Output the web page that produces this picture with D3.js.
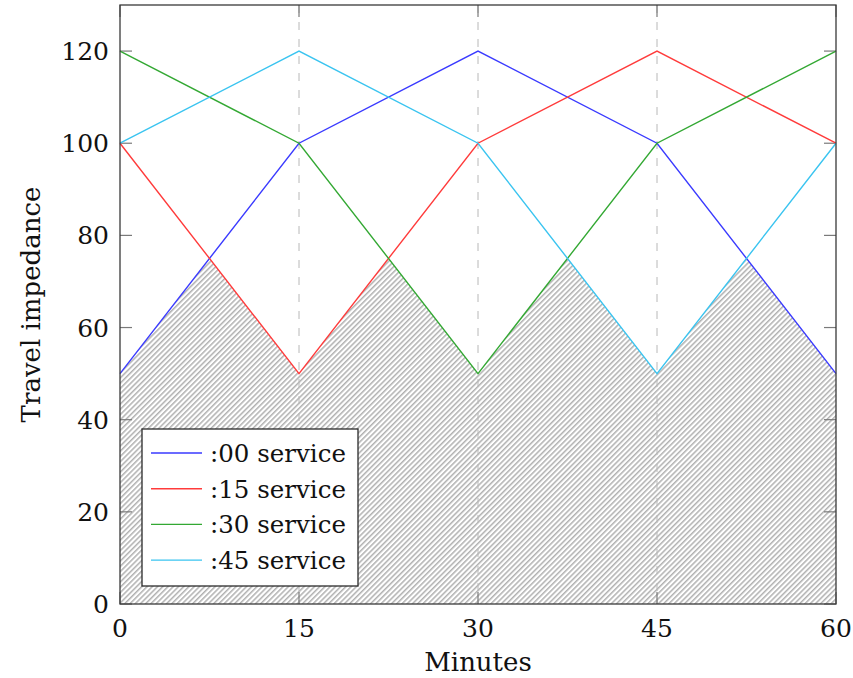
<!DOCTYPE html>
<html><head><meta charset="utf-8">
<script src="https://cdn.jsdelivr.net/npm/d3@7"></script>
<style>body{margin:0;background:#fff}svg{display:block}</style>
</head><body><svg id="c" width="853" height="678"></svg>
<script>
const minutes = [0, 15, 30, 45, 60];
const seriesNames = [":00 service", ":15 service", ":30 service", ":45 service"];
const seriesColors = ["#3a3aff", "#ff3b3b", "#33a833", "#3ac4f0"];
const s00 = [50, 100, 120, 100, 50];
const s15 = [100, 50, 100, 120, 100];
const s30 = [120, 100, 50, 100, 120];
const s45 = [100, 120, 100, 50, 100];
const envX = [0, 7.5, 15, 22.5, 30, 37.5, 45, 52.5, 60];
const envY = [50, 75, 50, 75, 50, 75, 50, 75, 50];
const xTicks = [0, 15, 30, 45, 60];
const yTicks = [0, 20, 40, 60, 80, 100, 120];
const gridX = [15, 30, 45];

const FONT = "'DejaVu Serif', 'Liberation Serif', serif";
const svg = d3.select("#c");
const L = 120, R = 836, T = 5, B = 604;
const x = d3.scaleLinear().domain([0, 60]).range([L, R]);
const y = d3.scaleLinear().domain([0, 130]).range([B, T]);

const defs = svg.append("defs");
const pat = defs.append("pattern").attr("id", "hatch").attr("patternUnits", "userSpaceOnUse")
  .attr("width", 3.7).attr("height", 10).attr("patternTransform", "rotate(45)");
pat.append("line").attr("x1", 0.8).attr("y1", 0).attr("x2", 0.8).attr("y2", 10)
  .attr("stroke", "#9c9c9c").attr("stroke-width", 1.2);

const env = envX.map((v, i) => [v, envY[i]]);
svg.append("path")
  .datum(env)
  .attr("d", d3.area().x(d => x(d[0])).y0(y(0)).y1(d => y(d[1])))
  .attr("fill", "url(#hatch)");

svg.append("g").selectAll("line").data(gridX).join("line")
  .attr("x1", d => x(d)).attr("x2", d => x(d)).attr("y1", T).attr("y2", B)
  .attr("stroke", "#b8b8b8").attr("stroke-width", 1).attr("stroke-dasharray", "8,9");

const tk = svg.append("g").attr("stroke", "#7a7a7a").attr("stroke-width", 1.2);
xTicks.forEach(t => {
  tk.append("line").attr("x1", x(t)).attr("x2", x(t)).attr("y1", B).attr("y2", B - 12);
  tk.append("line").attr("x1", x(t)).attr("x2", x(t)).attr("y1", T).attr("y2", T + 12);
});
yTicks.forEach(t => {
  tk.append("line").attr("y1", y(t)).attr("y2", y(t)).attr("x1", L).attr("x2", L + 12);
  tk.append("line").attr("y1", y(t)).attr("y2", y(t)).attr("x1", R).attr("x2", R - 12);
});

const all = [s00, s15, s30, s45];
const line = d3.line().x((d, i) => x(minutes[i])).y(d => y(d));
all.forEach((s, k) => {
  svg.append("path").datum(s).attr("d", line).attr("fill", "none")
    .attr("stroke", seriesColors[k]).attr("stroke-width", 1.4);
});

svg.append("rect").attr("x", L).attr("y", T).attr("width", R - L).attr("height", B - T)
  .attr("fill", "none").attr("stroke", "#3a3a3a").attr("stroke-width", 1.3);

const fs = 25;
const txt = (g) => g.attr("font-family", FONT).attr("fill", "#111");
svg.append("g").selectAll("text").data(xTicks).join("text")
  .attr("x", d => x(d)).attr("y", 637).attr("text-anchor", "middle")
  .attr("font-size", fs).text(d => d).call(txt);
svg.append("g").selectAll("text").data(yTicks).join("text")
  .attr("x", 109).attr("y", d => y(d) + 9).attr("text-anchor", "end")
  .attr("font-size", fs).text(d => d).call(txt);

svg.append("text").attr("x", (L + R) / 2).attr("y", 671).attr("text-anchor", "middle")
  .attr("font-size", 26).text("Minutes").call(txt);
svg.append("text").attr("transform", "translate(40," + ((T + B) / 2) + ") rotate(-90)")
  .attr("text-anchor", "middle").attr("font-size", 26).text("Travel impedance").call(txt);

const lg = svg.append("g");
lg.append("rect").attr("x", 142).attr("y", 429).attr("width", 216).attr("height", 157)
  .attr("fill", "#fff").attr("stroke", "#2a2a2a").attr("stroke-width", 1.3);
seriesNames.forEach((n, k) => {
  const yy = 453 + k * 35.7;
  lg.append("line").attr("x1", 151).attr("x2", 202).attr("y1", yy).attr("y2", yy)
    .attr("stroke", seriesColors[k]).attr("stroke-width", 1.4);
  lg.append("text").attr("x", 210).attr("y", yy + 9).attr("font-size", 24.5).text(n).call(txt);
});
</script></body></html>
